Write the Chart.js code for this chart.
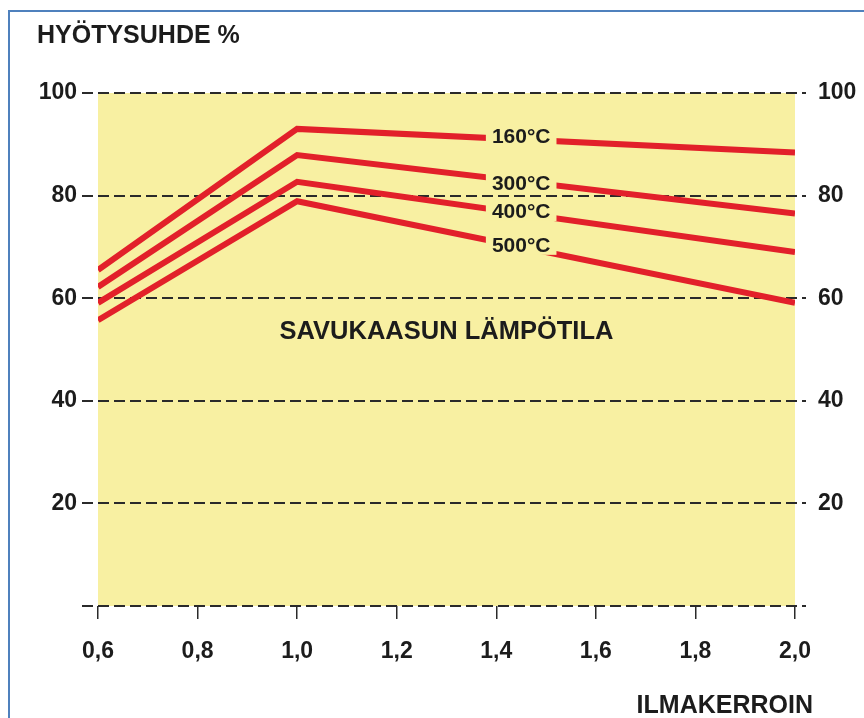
<!DOCTYPE html>
<html>
<head>
<meta charset="utf-8">
<script src="https://cdn.jsdelivr.net/npm/chart.js@4.4.1/dist/chart.umd.min.js"></script>
<style>
  html, body { margin: 0; padding: 0; background: #fff; }
  canvas { display: block; }
</style>
</head>
<body>
<canvas id="effChart" width="864" height="718"></canvas>
<script>
// Ilmakerroin (x) and efficiency % for each flue gas temperature
const airRatio = [0.6, 1.0, 2.0];
const eff160 = [65.5, 93.0, 88.4];
const eff300 = [62.2, 87.9, 76.5];
const eff400 = [59.1, 82.7, 69.0];
const eff500 = [55.7, 78.9, 59.1];
const seriesNames = ['160°C', '300°C', '400°C', '500°C'];

const xTicks = [0.6, 0.8, 1.0, 1.2, 1.4, 1.6, 1.8, 2.0];
const yTicks = [0, 20, 40, 60, 80, 100];

const FONT = "'Liberation Sans', Arial, sans-serif";
const INK = '#1c1c1c';
const RED = '#e2202a';
const YELLOW = '#f8f0a2';

// where the curve names sit (data coords)
const curveLabels = [
    { x: 1.45, y: 91.6 },
    { x: 1.45, y: 82.5 },
    { x: 1.45, y: 77.0 },
    { x: 1.45, y: 70.4 }
];

function toPoints(ys) {
    return airRatio.map((x, i) => ({ x: x, y: ys[i] }));
}

const decor = {
    id: 'decor',
    beforeDraw(chart) {
        const { ctx, chartArea: a } = chart;
        ctx.save();
        ctx.fillStyle = '#fff';
        ctx.fillRect(0, 0, chart.width, chart.height);
        // blue frame, left + top
        ctx.strokeStyle = '#4f81bd';
        ctx.lineWidth = 2;
        ctx.beginPath();
        ctx.moveTo(9, chart.height);
        ctx.lineTo(9, 11);
        ctx.lineTo(chart.width, 11);
        ctx.stroke();
        ctx.fillStyle = YELLOW;
        ctx.fillRect(a.left, a.top, a.right - a.left, a.bottom - a.top);
        ctx.restore();
    },
    beforeDatasetsDraw(chart) {
        const { ctx, chartArea: a, scales } = chart;
        ctx.save();
        ctx.strokeStyle = '#2a2a2a';
        ctx.lineWidth = 2;
        ctx.setLineDash([11, 5]);
        yTicks.forEach(v => {
            const y = Math.round(scales.y.getPixelForValue(v));
            ctx.beginPath();
            ctx.moveTo(a.left - 16, y);
            ctx.lineTo(a.right + 11, y);
            ctx.stroke();
        });
        ctx.restore();
    },
    afterDatasetsDraw(chart) {
        const { ctx, scales } = chart;
        ctx.save();
        ctx.fillStyle = INK;
        ctx.textBaseline = 'middle';

        ctx.font = 'bold 21px ' + FONT;
        ctx.textAlign = 'center';
        curveLabels.forEach((p, i) => {
            const px = scales.x.getPixelForValue(p.x);
            const py = scales.y.getPixelForValue(p.y);
            const w = ctx.measureText(seriesNames[i]).width;
            ctx.fillStyle = YELLOW;
            ctx.fillRect(px - w / 2 - 6, py - 10, w + 12, 20);
            ctx.fillStyle = INK;
            ctx.fillText(seriesNames[i], px, py + 1);
        });

        ctx.font = 'bold 25.5px ' + FONT;
        ctx.fillText('SAVUKAASUN LÄMPÖTILA',
            scales.x.getPixelForValue(1.30), scales.y.getPixelForValue(53.4));

        ctx.font = 'bold 25px ' + FONT;
        ctx.textAlign = 'left';
        ctx.fillText('HYÖTYSUHDE %', 37, 36);
        ctx.textAlign = 'right';
        ctx.fillText('ILMAKERROIN', 813, 706);
        ctx.restore();
    }
};

const lineStyle = {
    borderColor: RED,
    borderWidth: 6,
    pointRadius: 0,
    tension: 0,
    fill: false,
    borderJoinStyle: 'miter',
    borderCapStyle: 'butt'
};

const yAxis = (pos, width, pad) => ({
    type: 'linear',
    position: pos,
    min: 0,
    max: 100,
    afterBuildTicks: s => { s.ticks = yTicks.map(v => ({ value: v })); },
    afterFit: s => { s.width = width; },
    grid: { display: false, drawTicks: false },
    border: { display: false },
    ticks: {
        padding: pad,
        color: INK,
        font: { family: FONT, size: 23, weight: 'bold' },
        callback: v => v === 0 ? '' : String(v)
    }
});

new Chart(document.getElementById('effChart'), {
    type: 'line',
    data: {
        datasets: [
            Object.assign({ label: seriesNames[0], data: toPoints(eff160) }, lineStyle),
            Object.assign({ label: seriesNames[1], data: toPoints(eff300) }, lineStyle),
            Object.assign({ label: seriesNames[2], data: toPoints(eff400) }, lineStyle),
            Object.assign({ label: seriesNames[3], data: toPoints(eff500) }, lineStyle)
        ]
    },
    options: {
        responsive: false,
        animation: false,
        layout: { padding: { top: 93, left: 0, right: 0, bottom: 0 } },
        plugins: {
            legend: { display: false },
            tooltip: { enabled: false }
        },
        scales: {
            x: {
                type: 'linear',
                min: 0.6,
                max: 2.0,
                afterBuildTicks: s => { s.ticks = xTicks.map(v => ({ value: v })); },
                afterFit: s => { s.height = 112; },
                grid: {
                    drawOnChartArea: false,
                    drawTicks: true,
                    tickLength: 13,
                    color: '#2a2a2a',
                    lineWidth: 1.5
                },
                border: { display: false },
                ticks: {
                    padding: 19,
                    color: INK,
                    font: { family: FONT, size: 23, weight: 'bold' },
                    callback: v => v.toFixed(1).replace('.', ',')
                }
            },
            y: yAxis('left', 98, 21),
            y2: yAxis('right', 69, 23)
        }
    },
    plugins: [decor]
});
</script>
</body>
</html>
